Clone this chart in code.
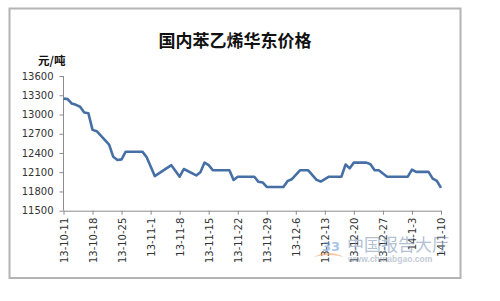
<!DOCTYPE html>
<html>
<head>
<meta charset="utf-8">
<script src="https://cdn.jsdelivr.net/npm/d3@7"></script>
<style>
  body { margin: 0; background: #fff; }
  .axis path, .axis line { stroke: #8c8c8c; }
  .axis text { font-family: 'DejaVu Sans', sans-serif; font-size: 10px; fill: #333; }
</style>
</head>
<body>
<div id="chart"></div>
<script>
// dates where the price changes (yy-m-d) and the price in yuan/ton
const dates = [
  '13-10-11', '13-10-12', '13-10-13', '13-10-14', '13-10-15', '13-10-16', '13-10-17',
  '13-10-18', '13-10-19', '13-10-21', '13-10-22', '13-10-23', '13-10-24', '13-10-25',
  '13-10-26', '13-10-30', '13-10-31', '13-11-2', '13-11-6', '13-11-8', '13-11-9',
  '13-11-12', '13-11-13', '13-11-14', '13-11-15', '13-11-16', '13-11-20', '13-11-21',
  '13-11-22', '13-11-26', '13-11-27', '13-11-28', '13-11-29', '13-12-3', '13-12-4',
  '13-12-5', '13-12-7', '13-12-9', '13-12-11', '13-12-12', '13-12-14', '13-12-17',
  '13-12-18', '13-12-19', '13-12-20', '13-12-23', '13-12-24', '13-12-25', '13-12-26',
  '13-12-28', '14-1-2', '14-1-3', '14-1-4', '14-1-7', '14-1-8', '14-1-9', '14-1-10'
]
const prices = [
  13250, 13240, 13170, 13150, 13120, 13030, 13020,
  12760, 12740, 12600, 12530, 12340, 12290, 12300,
  12420, 12420, 12340, 12040, 12210, 12030, 12150,
  12050, 12100, 12250, 12210, 12130, 12130, 11980,
  12030, 12030, 11950, 11940, 11870, 11870, 11960,
  11990, 12130, 12130, 11980, 11955, 12030, 12030,
  12220, 12160, 12250, 12250, 12225, 12130, 12130,
  12030, 12030, 12140, 12105, 12105, 12000, 11965, 11855
]
const yTicks = [11500, 11800, 12100, 12400, 12700, 13000, 13300, 13600]
const xTickLabels = [
  '13-10-11', '13-10-18', '13-10-25', '13-11-1', '13-11-8', '13-11-15', '13-11-22',
  '13-11-29', '13-12-6', '13-12-13', '13-12-20', '13-12-27', '14-1-3', '14-1-10'
]

const parseDate = d3.timeParse('%y-%m-%d')
const formatDate = d3.timeFormat('%y-%-m-%-d')

const margin = { top: 76, left: 63.5, right: 59, bottom: 90.3 }
const totalWidth = 500
const totalHeight = 301
const width = totalWidth - margin.left - margin.right
const height = totalHeight - margin.top - margin.bottom

const root = d3
  .select('#chart')
  .append('svg')
  .attr('width', totalWidth)
  .attr('height', totalHeight)

root
  .append('rect')
  .attr('x', 9.5)
  .attr('y', 8.5)
  .attr('width', 451)
  .attr('height', 269.5)
  .attr('fill', '#fff')
  .attr('stroke', '#b4b4b4')
  .attr('stroke-width', 2)

root
  .append('text')
  .attr('x', 235)
  .attr('y', 47)
  .attr('text-anchor', 'middle')
  .attr('font-family', "'Noto Sans CJK SC', sans-serif")
  .attr('font-weight', 'bold')
  .attr('font-size', 17)
  .attr('fill', '#111')
  .text('国内苯乙烯华东价格')

root
  .append('text')
  .attr('x', 38)
  .attr('y', 65)
  .attr('font-family', "'Noto Sans CJK SC', sans-serif")
  .attr('font-weight', 'bold')
  .attr('font-size', 11.5)
  .attr('fill', '#111')
  .text('元/吨')

const svg = root
  .append('g')
  .attr('transform', 'translate(' + margin.left + ',' + margin.top + ')')

const datapoints = dates.map((d, i) => ({ date: parseDate(d), price: prices[i] }))
const tickDates = xTickLabels.map(parseDate)

const xPositionScale = d3
  .scaleTime()
  .domain([tickDates[0], tickDates[tickDates.length - 1]])
  .range([0, width])

const yPositionScale = d3
  .scaleLinear()
  .domain([11500, 13600])
  .range([height, 0])

// watermark sits under the line and the labels
const wm = root.append('g').attr('opacity', 0.6)
wm.append('text')
  .attr('x', 347)
  .attr('y', 251)
  .attr('font-family', "'Noto Sans CJK SC', sans-serif")
  .attr('font-size', 17)
  .attr('fill', '#8198b6')
  .text('中国报告大厅')
wm.append('text')
  .attr('x', 348)
  .attr('y', 262)
  .attr('font-family', "'Liberation Sans', sans-serif")
  .attr('font-weight', 'bold')
  .attr('font-size', 8.5)
  .attr('fill', '#9aa9bb')
  .text('www.chinabgao.com')
wm.append('path')
  .attr('d', 'M314,257 Q328,249 344,257 Q328,253 314,257 Z')
  .attr('fill', '#f0a060')
wm.append('text')
  .attr('x', 322)
  .attr('y', 251)
  .attr('font-family', "'DejaVu Sans', sans-serif")
  .attr('font-weight', 'bold')
  .attr('font-size', 13)
  .attr('fill', '#6fa0d8')
  .text('33')

const yAxis = d3
  .axisLeft(yPositionScale)
  .tickValues(yTicks)
  .tickFormat(d3.format('d'))
  .tickSize(4)
  .tickPadding(6)
svg
  .append('g')
  .attr('class', 'axis y-axis')
  .call(yAxis)

const xAxis = d3
  .axisBottom(xPositionScale)
  .tickValues(tickDates)
  .tickFormat(formatDate)
  .tickSize(4)
  .tickSizeOuter(0)
svg
  .append('g')
  .attr('class', 'axis x-axis')
  .attr('transform', 'translate(0,' + height + ')')
  .call(xAxis)
  .selectAll('text')
  .attr('transform', 'rotate(-90)')
  .attr('text-anchor', 'end')
  .attr('x', -7)
  .attr('y', 0)
  .attr('dy', '0.35em')

svg.select('.y-axis .domain').attr('d', 'M0,' + height + 'V0')

const line = d3
  .line()
  .x(d => xPositionScale(d.date))
  .y(d => yPositionScale(d.price))

svg
  .append('path')
  .datum(datapoints)
  .attr('fill', 'none')
  .attr('stroke', '#4670a5')
  .attr('stroke-width', 2.6)
  .attr('stroke-linejoin', 'round')
  .attr('d', line)
</script>
</body>
</html>
